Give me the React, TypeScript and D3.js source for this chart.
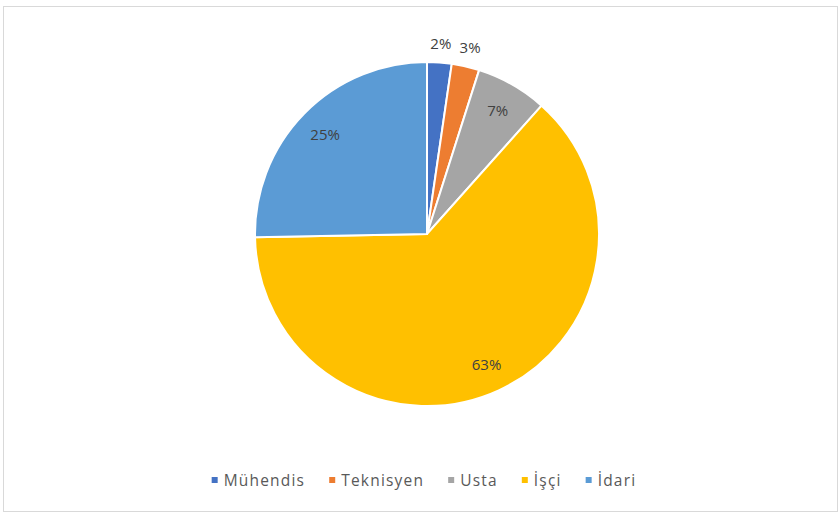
import React from "react";
import * as d3 from "d3";

const categories = ["Mühendis", "Teknisyen", "Usta", "İşçi", "İdari"];
const values = [2.3, 2.6, 6.7, 63.1, 25.3];
const labels = ["2%", "3%", "7%", "63%", "25%"];
const colors = ["#4472C4", "#ED7D31", "#A5A5A5", "#FFC000", "#5B9BD5"];

const W = 840, H = 513;
const FONT = "'Open Sans', 'DejaVu Sans', sans-serif";
const LS = 1.2;

function measure(text: string, size: number) {
  const c = document.createElement("canvas").getContext("2d");
  if (!c) return text.length * size * 0.55;
  c.font = `${size}px 'Open Sans'`;
  return c.measureText(text).width + text.length * LS;
}

export default function App() {
  const cx = 427, cy = 234, r = 172;
  const pie = d3.pie<number>().sort(null).value((d) => d);
  const arcs = pie(values);
  const arc = d3.arc<d3.PieArcDatum<number>>().innerRadius(0).outerRadius(r);
  const inner = d3.arc<d3.PieArcDatum<number>>().innerRadius(r * 0.83).outerRadius(r * 0.83);
  const outer = d3.arc<d3.PieArcDatum<number>>().innerRadius(r + 20).outerRadius(r + 20);

  const fs = 15.5;
  const gap = 24;
  const widths = categories.map((c) => measure(c, fs));
  const itemW = widths.map((w) => 12 + w + gap);
  const total = d3.sum(itemW) - gap;
  let x0 = W / 2 - total / 2 + 4;
  const items = categories.map((c, i) => {
    const x = x0;
    x0 += itemW[i];
    return { c, x, i };
  });

  return (
    <svg width={W} height={H} style={{ position: "absolute", left: 0, top: 0 }}>
      <rect x={0} y={0} width={W} height={H} fill="#fff" />
      <rect x={3.5} y={6.5} width={834} height={505} fill="#fff" stroke="#d9d9d9" />
      <g transform={`translate(${cx},${cy})`}>
        {arcs.map((a, i) => (
          <path key={i} d={arc(a) || ""} fill={colors[i]} stroke="#fff" strokeWidth={2} />
        ))}
        {arcs.map((a, i) => {
          const small = values[i] < 4;
          const [lx, ly] = small ? outer.centroid(a) : inner.centroid(a);
          return (
            <text key={i} x={lx} y={ly} textAnchor="middle" dominantBaseline="central"
              fontFamily={FONT} fontSize={15} fill="#404040">
              {labels[i]}
            </text>
          );
        })}
      </g>
      <g>
        {items.map(({ c, x, i }) => (
          <g key={i}>
            <rect x={x} y={477} width={6} height={6} fill={colors[i]} />
            <text x={x + 12} y={480} dominantBaseline="central" fontFamily={FONT}
              fontSize={fs} letterSpacing={LS} fill="#595959">{c}</text>
          </g>
        ))}
      </g>
    </svg>
  );
}
